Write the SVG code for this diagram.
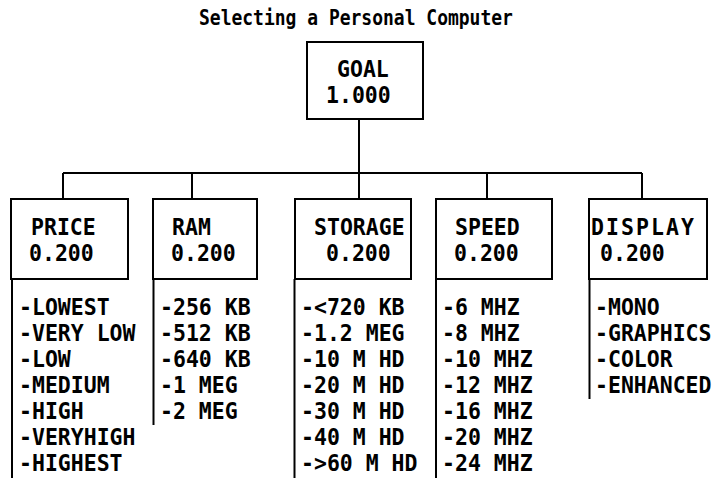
<svg xmlns="http://www.w3.org/2000/svg" width="714" height="478" viewBox="0 0 714 478">
<style>
.bg{fill:#fff}
.box{fill:#fff;stroke:#000;stroke-width:2}
.ln{stroke:#000;stroke-width:2;fill:none}
.t{font-family:"DejaVu Sans Mono","Liberation Mono",monospace;font-weight:bold;font-size:21.5px;fill:#000}
.title{font-family:"DejaVu Sans Mono","Liberation Mono",monospace;font-weight:bold;font-size:18px;fill:#000}
</style>
<rect class="bg" x="0" y="0" width="714" height="478"/>
<text class="title" transform="translate(199,25) scale(1,1.15)">Selecting a Personal Computer</text>
<g id="connectors">
<path class="ln" d="M359,119V173M63,173H642M63,173V199M192,173V199M359,173V199M487,173V199M642,173V199"/>
</g>
<g id="goal">
<rect class="box" x="307" y="42" width="116" height="77"/>
<text class="t" transform="translate(337,77) scale(1,1.1)">GOAL</text>
<text class="t" transform="translate(326,103) scale(1,1.1)">1.000</text>
</g>
<g id="price">
<rect class="box" x="11" y="199" width="117" height="80"/>
<text class="t" transform="translate(31,235) scale(1,1.1)">PRICE</text>
<text class="t" transform="translate(29,261) scale(1,1.1)">0.200</text>
<path class="ln" d="M12,279V478"/>
<text class="t" transform="translate(19,315) scale(1,1.1)">-LOWEST</text>
<text class="t" transform="translate(19,341) scale(1,1.1)">-VERY LOW</text>
<text class="t" transform="translate(19,367) scale(1,1.1)">-LOW</text>
<text class="t" transform="translate(19,393) scale(1,1.1)">-MEDIUM</text>
<text class="t" transform="translate(19,419) scale(1,1.1)">-HIGH</text>
<text class="t" transform="translate(19,445) scale(1,1.1)">-VERYHIGH</text>
<text class="t" transform="translate(19,471) scale(1,1.1)">-HIGHEST</text>
</g>
<g id="ram">
<rect class="box" x="153" y="199" width="104" height="80"/>
<text class="t" transform="translate(172,235) scale(1,1.1)">RAM</text>
<text class="t" transform="translate(171,261) scale(1,1.1)">0.200</text>
<path class="ln" d="M153.5,279V425"/>
<text class="t" transform="translate(160,315) scale(1,1.1)">-256 KB</text>
<text class="t" transform="translate(160,341) scale(1,1.1)">-512 KB</text>
<text class="t" transform="translate(160,367) scale(1,1.1)">-640 KB</text>
<text class="t" transform="translate(160,393) scale(1,1.1)">-1 MEG</text>
<text class="t" transform="translate(160,419) scale(1,1.1)">-2 MEG</text>
</g>
<g id="storage">
<rect class="box" x="295" y="199" width="116" height="80"/>
<text class="t" transform="translate(314,235) scale(1,1.1)">STORAGE</text>
<text class="t" transform="translate(326,261) scale(1,1.1)">0.200</text>
<path class="ln" d="M294.5,279V478"/>
<text class="t" transform="translate(301,315) scale(1,1.1)">-&lt;720 KB</text>
<text class="t" transform="translate(301,341) scale(1,1.1)">-1.2 MEG</text>
<text class="t" transform="translate(301,367) scale(1,1.1)">-10 M HD</text>
<text class="t" transform="translate(301,393) scale(1,1.1)">-20 M HD</text>
<text class="t" transform="translate(301,419) scale(1,1.1)">-30 M HD</text>
<text class="t" transform="translate(301,445) scale(1,1.1)">-40 M HD</text>
<text class="t" transform="translate(301,471) scale(1,1.1)">-&gt;60 M HD</text>
</g>
<g id="speed">
<rect class="box" x="436" y="199" width="116" height="80"/>
<text class="t" transform="translate(455,235) scale(1,1.1)">SPEED</text>
<text class="t" transform="translate(454,261) scale(1,1.1)">0.200</text>
<path class="ln" d="M436,279V478"/>
<text class="t" transform="translate(442,315) scale(1,1.1)">-6 MHZ</text>
<text class="t" transform="translate(442,341) scale(1,1.1)">-8 MHZ</text>
<text class="t" transform="translate(442,367) scale(1,1.1)">-10 MHZ</text>
<text class="t" transform="translate(442,393) scale(1,1.1)">-12 MHZ</text>
<text class="t" transform="translate(442,419) scale(1,1.1)">-16 MHZ</text>
<text class="t" transform="translate(442,445) scale(1,1.1)">-20 MHZ</text>
<text class="t" transform="translate(442,471) scale(1,1.1)">-24 MHZ</text>
</g>
<g id="display">
<rect class="box" x="589" y="199" width="118" height="80"/>
<text class="t" transform="translate(591,235) scale(1,1.1)" textLength="103" lengthAdjust="spacing">DISPLAY</text>
<text class="t" transform="translate(600,261) scale(1,1.1)">0.200</text>
<path class="ln" d="M589.5,279V399"/>
<text class="t" transform="translate(595,315) scale(1,1.1)">-MONO</text>
<text class="t" transform="translate(595,341) scale(1,1.1)">-GRAPHICS</text>
<text class="t" transform="translate(595,367) scale(1,1.1)">-COLOR</text>
<text class="t" transform="translate(595,393) scale(1,1.1)">-ENHANCED</text>
</g>
</svg>
